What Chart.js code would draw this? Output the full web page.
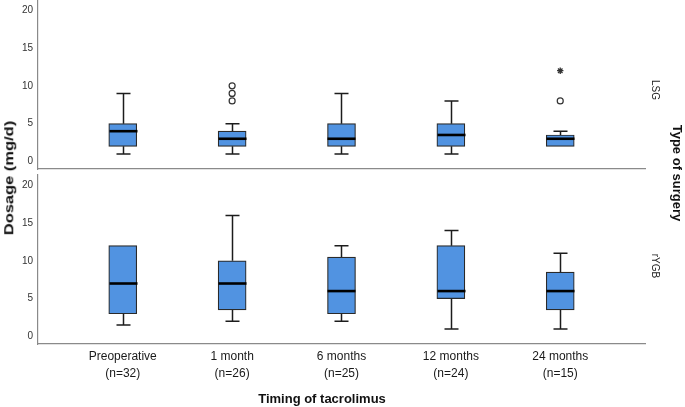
<!DOCTYPE html>
<html>
<head>
<meta charset="utf-8">
<script src="https://cdn.jsdelivr.net/npm/chart.js@4.4.0/dist/chart.umd.min.js"></script>
<style>
    html, body { margin: 0; padding: 0; background: #fff; }
    #wrap {
        position: relative;
        width: 685px;
        height: 407px;
        overflow: hidden;
        font-family: "Liberation Sans", Arial, sans-serif;
        color: #111;
    }
    canvas { position: absolute; left: 0; }
    #topCanvas { top: 0; }
    #bottomCanvas { top: 172px; }
    .lbl { position: absolute; white-space: nowrap; line-height: 1; }
    .bold { font-weight: bold; font-size: 13px; }
    .panel { font-size: 10px; color: #222; }
</style>
</head>
<body>
<div id="wrap">
    <canvas id="topCanvas" width="685" height="172"></canvas>
    <canvas id="bottomCanvas" width="685" height="235"></canvas>

    <div class="lbl bold" id="yTitle" style="left:9px; top:178px; font-size:13.5px; transform: translate(-50%,-50%) rotate(-90deg) scaleX(1.22);">Dosage (mg/d)</div>
    <div class="lbl bold" id="xTitle" style="left:322px; top:398px; transform: translate(-50%,-50%);">Timing of tacrolimus</div>
    <div class="lbl bold" id="rTitle" style="left:677px; top:173px; transform: translate(-50%,-50%) rotate(90deg);">Type of surgery</div>
    <div class="lbl panel" id="lsgLabel" style="left:655px; top:90px; transform: translate(-50%,-50%) rotate(90deg);">LSG</div>
    <div class="lbl panel" id="rygbLabel" style="left:655px; top:266px; transform: translate(-50%,-50%) rotate(90deg);">rYGB</div>
</div>

<script>
// Categories (timing) and sample sizes
const categories = ['Preoperative', '1 month', '6 months', '12 months', '24 months'];
const counts = [32, 26, 25, 24, 15];
const yTicks = [0, 5, 10, 15, 20];

// LSG panel (mg/d)
const lsgMin = [1, 1, 1, 1, 2];
const lsgQ1 = [2, 2, 2, 2, 2];
const lsgMedian = [4, 3, 3, 3.5, 3];
const lsgQ3 = [5, 4, 5, 5, 3.5];
const lsgMax = [9, 5, 9, 8, 4];
const lsgOutliers = [[], [8, 9, 10], [], [], [8]];
const lsgExtremes = [[], [], [], [], [12]];

// rYGB panel (mg/d)
const rygbMin = [1.5, 2, 2, 1, 1];
const rygbQ1 = [3, 3.5, 3, 5, 3.5];
const rygbMedian = [7, 7, 6, 6, 6];
const rygbQ3 = [12, 10, 10.5, 12, 8.5];
const rygbMax = [12, 16, 12, 14, 11];
const rygbOutliers = [[], [], [], [], []];
const rygbExtremes = [[], [], [], [], []];

const BOX_FILL = '#5193e1';
const LINE = '#1c1c1c';
const AXIS = '#8a8a8a';
const BOX_WIDTH = 28;

// whiskers + medians, drawn with the chart's own scales
const boxWhiskers = {
    id: 'boxWhiskers',
    afterDatasetsDraw(chart, args, opts) {
        const { ctx } = chart;
        const x = chart.scales.x;
        const y = chart.scales.y;
        const s = opts.stats;
        const cap = 7;
        const half = BOX_WIDTH / 2;
        ctx.save();
        ctx.strokeStyle = LINE;
        ctx.lineCap = 'butt';
        s.min.forEach((mn, i) => {
            const cx = Math.round(x.getPixelForValue(i)) + 0.5;
            ctx.lineWidth = 1.5;
            ctx.beginPath();
            // upper whisker
            if (s.max[i] > s.q3[i]) {
                ctx.moveTo(cx, y.getPixelForValue(s.q3[i]));
                ctx.lineTo(cx, y.getPixelForValue(s.max[i]));
                ctx.moveTo(cx - cap, y.getPixelForValue(s.max[i]));
                ctx.lineTo(cx + cap, y.getPixelForValue(s.max[i]));
            }
            // lower whisker
            if (mn < s.q1[i]) {
                ctx.moveTo(cx, y.getPixelForValue(s.q1[i]));
                ctx.lineTo(cx, y.getPixelForValue(mn));
                ctx.moveTo(cx - cap, y.getPixelForValue(mn));
                ctx.lineTo(cx + cap, y.getPixelForValue(mn));
            }
            ctx.stroke();
            // median
            ctx.lineWidth = 2.6;
            ctx.strokeStyle = '#000';
            ctx.beginPath();
            ctx.moveTo(cx - half, y.getPixelForValue(s.median[i]));
            ctx.lineTo(cx + half, y.getPixelForValue(s.median[i]));
            ctx.stroke();
            ctx.strokeStyle = LINE;
        });
        ctx.restore();
    }
};

function pointsFrom(lists) {
    const pts = [];
    lists.forEach((vals, i) => vals.forEach(v => pts.push({ x: i, y: v })));
    return pts;
}

function buildPanel(canvasId, stats, isBottom) {
    const boxes = stats.q1.map((q, i) => ({ x: i, y: [q, stats.q3[i]] }));

    return new Chart(document.getElementById(canvasId), {
        type: 'bar',
        data: {
            datasets: [{
                label: 'box',
                data: boxes,
                backgroundColor: BOX_FILL,
                borderColor: '#2a2a2a',
                borderWidth: 1.2,
                borderSkipped: false,
                barThickness: BOX_WIDTH
            }, {
                type: 'scatter',
                label: 'outliers',
                data: pointsFrom(stats.outliers),
                pointStyle: 'circle',
                radius: 3,
                borderColor: '#333',
                backgroundColor: '#fff',
                borderWidth: 1.2
            }, {
                type: 'scatter',
                label: 'extremes',
                data: pointsFrom(stats.extremes),
                pointStyle: 'star',
                radius: 3.2,
                borderColor: '#333',
                borderWidth: 1.3
            }]
        },
        options: {
            responsive: false,
            animation: false,
            layout: {
                autoPadding: false,
                padding: { left: 0, right: 40, top: isBottom ? 3 : 0, bottom: 0 }
            },
            plugins: {
                legend: { display: false },
                tooltip: { enabled: false },
                boxWhiskers: { stats: stats }
            },
            scales: {
                x: {
                    type: 'linear',
                    offset: false,
                    min: -0.775,
                    max: 4.775,
                    grid: { display: false, drawTicks: false, offset: false },
                    border: { display: true, color: AXIS, width: 1.2 },
                    afterBuildTicks: axis => {
                        axis.ticks = categories.map((c, i) => ({ value: i }));
                    },
                    afterFit: scale => {
                        scale.height = isBottom ? 63 : 3;
                        scale.paddingLeft = 0;
                        scale.paddingRight = 0;
                    },
                    ticks: {
                        display: isBottom,
                        padding: 5,
                        maxRotation: 0,
                        autoSkip: false,
                        color: '#1a1a1a',
                        font: { family: '"Liberation Sans", Arial, sans-serif', size: 12, lineHeight: 1.35 },
                        callback: value => [categories[value], '(n=' + counts[value] + ')']
                    }
                },
                y: {
                    min: -1,
                    max: 21.35,
                    grid: { display: false, drawTicks: false },
                    border: { display: true, color: AXIS, width: 1.2 },
                    afterBuildTicks: axis => {
                        axis.ticks = yTicks.map(v => ({ value: v }));
                    },
                    afterFit: scale => {
                        scale.width = 38;
                        scale.paddingTop = 0;
                        scale.paddingBottom = 0;
                    },
                    ticks: {
                        padding: 5,
                        color: '#333',
                        font: { family: '"Liberation Sans", Arial, sans-serif', size: 10 }
                    }
                }
            }
        },
        plugins: [boxWhiskers]
    });
}

buildPanel('topCanvas', {
    min: lsgMin, q1: lsgQ1, median: lsgMedian, q3: lsgQ3, max: lsgMax,
    outliers: lsgOutliers, extremes: lsgExtremes
}, false);

buildPanel('bottomCanvas', {
    min: rygbMin, q1: rygbQ1, median: rygbMedian, q3: rygbQ3, max: rygbMax,
    outliers: rygbOutliers, extremes: rygbExtremes
}, true);
</script>
</body>
</html>
